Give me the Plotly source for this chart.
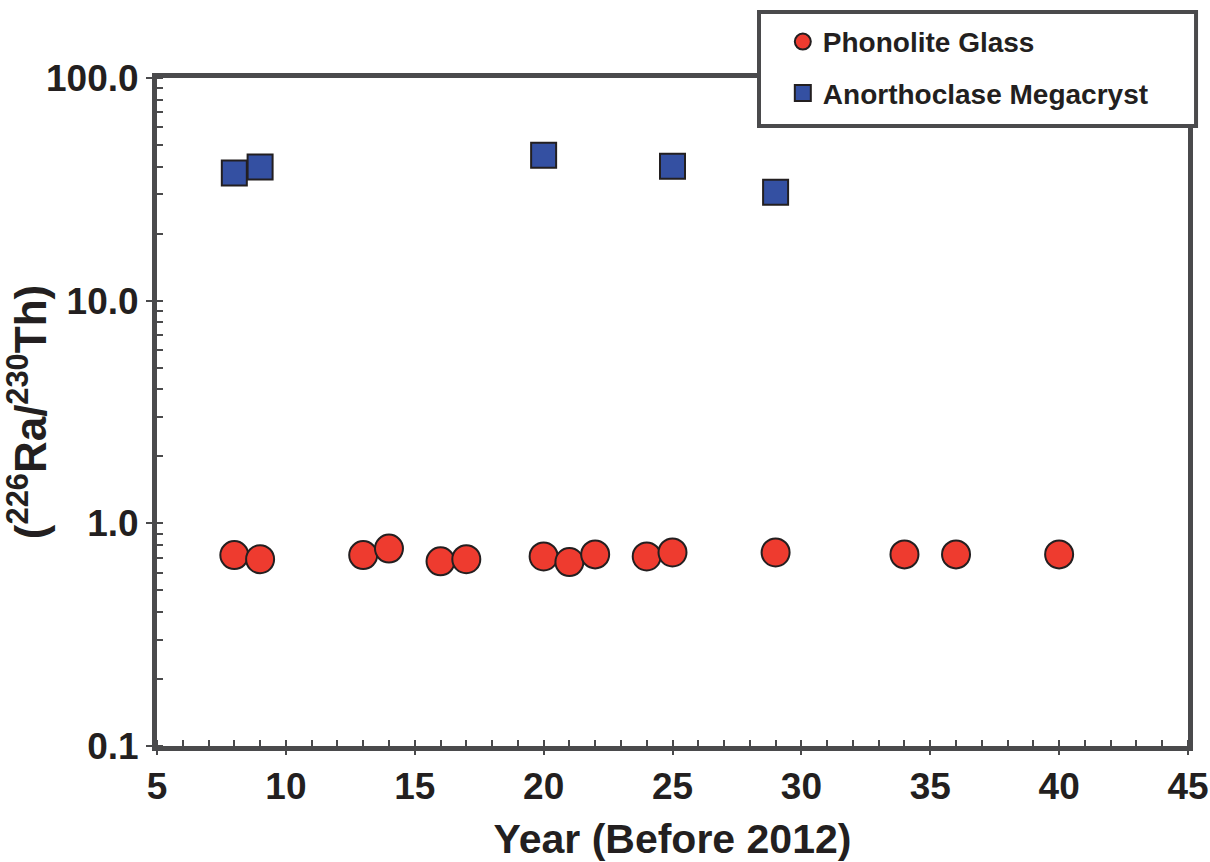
import plotly.graph_objects as go

glass_year = [8, 9, 13, 14, 16, 17, 20, 21, 22, 24, 25, 29, 34, 36, 40]
glass_ratio = [0.72, 0.69, 0.72, 0.77, 0.675, 0.69, 0.71, 0.67, 0.725, 0.71, 0.74, 0.74, 0.725, 0.725, 0.725]

mega_year = [8, 9, 20, 25, 29]
mega_ratio = [37.4, 39.8, 45.0, 40.2, 30.7]

x_ticks = [5, 10, 15, 20, 25, 30, 35, 40, 45]
y_ticks = [0.1, 1, 10, 100]
y_tick_text = ["0.1", "1.0", "10.0", "100.0"]

AX = "#4a4a4c"
TXT = "#231f20"
FONT = "Liberation Sans"

fig = go.Figure()
fig.add_trace(go.Scatter(
    x=glass_year, y=glass_ratio, mode="markers", name="<b>Phonolite Glass</b>",
    legendgroup="g1",
    marker=dict(symbol="circle", size=28, color="#ee3b2f", line=dict(color="#231f20", width=2)),
))
fig.add_trace(go.Scatter(
    x=mega_year, y=mega_ratio, mode="markers", name="<b>Anorthoclase Megacryst</b>",
    legendgroup="g2",
    marker=dict(symbol="square", size=25, color="#3450a2", line=dict(color="#231f20", width=2)),
))

fig.update_layout(
    width=1210, height=862,
    margin=dict(l=157, r=22, t=78, b=116, autoexpand=False),
    paper_bgcolor="white", plot_bgcolor="white",
    font=dict(family=FONT, color=TXT),
    showlegend=True,
    legend=dict(
        x=0.607, y=1.0915, xanchor="left", yanchor="top",
        bgcolor="rgba(0,0,0,0)", borderwidth=0,
        font=dict(size=28, family=FONT, color=TXT),
        itemsizing="trace", tracegroupgap=12,
    ),
    shapes=[dict(
        type="rect", xref="paper", yref="paper",
        x0=0.5839, x1=1.0078, y0=0.928, y1=1.0988,
        fillcolor="white", line=dict(color=AX, width=4), layer="above",
    )],
)
fig.update_xaxes(
    range=[5, 45], tickvals=x_ticks, ticktext=[f"<b>{v}</b>" for v in x_ticks],
    automargin=False,
    showgrid=False, zeroline=False,
    showline=True, linecolor=AX, linewidth=5, mirror=True,
    ticks="outside", ticklen=4, tickwidth=2, tickcolor=AX,
    tickfont=dict(size=37, family=FONT, color=TXT),
    minor=dict(dtick=1, ticks="inside", ticklen=6, tickwidth=2, tickcolor=AX),
    title=dict(text="<b>Year (Before 2012)</b>", font=dict(size=41, family=FONT, color=TXT), standoff=20),
)
fig.update_yaxes(
    type="log", range=[-1, 2], tickvals=y_ticks, ticktext=[f"<b>{t}</b>" for t in y_tick_text],
    automargin=False,
    showgrid=False, zeroline=False,
    showline=True, linecolor=AX, linewidth=5, mirror=True,
    ticks="outside", ticklen=6, tickwidth=2, tickcolor=AX,
    tickfont=dict(size=37, family=FONT, color=TXT),
    minor=dict(dtick="D1", ticks="inside", ticklen=6, tickwidth=2, tickcolor=AX),
    title=dict(text="<b>(<sup>226</sup>Ra/<sup>230</sup>Th)</b>", font=dict(size=44, family=FONT, color=TXT), standoff=8),
)

fig.write_html("out.html")
